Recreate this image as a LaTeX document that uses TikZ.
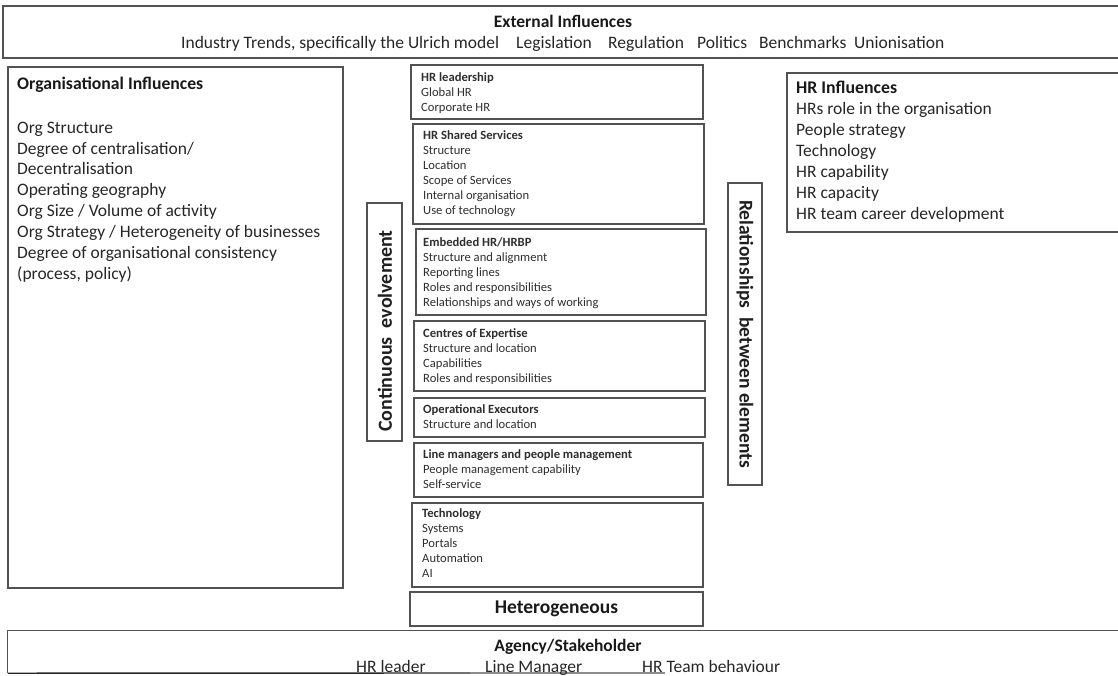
\documentclass[tikz,border=0pt]{standalone}
\usepackage{fontspec}
\setmainfont{Carlito}
\usetikzlibrary{fit}
\begin{document}
\begin{tikzpicture}[x=1pt,y=-1pt,
  frame/.style={draw=black!68, line width=1.2pt, inner sep=0pt},
  small/.style={font=\fontsize{12.6}{15}\selectfont, text=black!82, inner sep=0pt, align=left, anchor=north west},
  large/.style={font=\fontsize{17.5}{20.9}\selectfont, text=black!85, inner sep=0pt, align=left, anchor=north west},
  headline/.style={font=\fontsize{17.5}{20}\selectfont\bfseries, text=black!90, inner sep=0pt, anchor=base},
  item/.style={font=\fontsize{17.5}{20}\selectfont, text=black!85, inner sep=0pt, anchor=base west},
  sidelabel/.style={font=\fontsize{19.5}{22}\selectfont\bfseries, text=black!88, inner sep=0pt}]
\useasboundingbox (0,0) rectangle (1118,675);
\clip (0,0) rectangle (1118,675);

% outer bands and side panels
\node[frame, fit={(3,6) (1130,58)}] (ext) {};
\node[frame, fit={(8,67) (343,588)}] (org) {};
\node[frame, fit={(787,73) (1130,232)}] (hri) {};
\node[inner sep=0pt, fit={(8,631) (1130,673)}] (agency) {};
\draw[black!68, line width=1.2pt] (agency.south west) -- (agency.north west) -- (agency.north east);
\coordinate (fadeA) at (470,673);
\coordinate (fadeB) at (665,673);
\draw[black!85, line width=1.4pt] (agency.south west) -- (fadeA);
\draw[black!45, line width=1.2pt] (fadeA) -- (fadeB);

% central stack of HR elements
\node[frame, fit={(411,65) (703,119)}] (hrl) {};
\node[frame, fit={(413,124) (704,224)}] (hrss) {};
\node[frame, fit={(416,229) (706,315)}] (emb) {};
\node[frame, fit={(414,321) (705,391)}] (coe) {};
\node[frame, fit={(414,398) (705,437)}] (ops) {};
\node[frame, fit={(414,443) (703,497)}] (lm) {};
\node[frame, fit={(412,503) (703,587)}] (tech) {};
\node[frame, fit={(410,592) (703,626)}] (het) {};

% vertical side labels
\node[frame, fit={(367,203) (402,441)}] (cont) {};
\node[frame, fit={(728,183) (762,485)}] (rel) {};
\node[sidelabel, font=\fontsize{20}{22}\selectfont\bfseries, rotate=90] (contT) at (385,331) {Continuous\ \ evolvement};
\node[sidelabel, rotate=-90] (relT) at (745,334) {Relationships\ \ between elements};

% external influences
\node[headline] (extT) at (563,27.1) {External Influences};
\node[item] (e1) at (181,48.3) {Industry Trends, specifically the Ulrich model};
\node[item] (e2) at (516,48.3) {Legislation};
\node[item] (e3) at (608,48.3) {Regulation};
\node[item] (e4) at (697,48.3) {Politics};
\node[item] (e5) at (759,48.3) {Benchmarks};
\node[item] (e6) at (854,48.3) {Unionisation};

% organisational influences
\node[large, font=\fontsize{17.7}{20}\selectfont\bfseries, text=black!90] (orgT) at (17,76.4) {Organisational Influences};
\node[large] (orgB) at (17,121.6) {Org Structure\\Degree of centralisation/\\Decentralisation\\Operating geography\\Org Size / Volume of activity\\Org Strategy / Heterogeneity of businesses\\Degree of organisational consistency\\(process, policy)};

% HR influences
\node[large, font=\fontsize{17.8}{20}\selectfont\bfseries, text=black!90] (hriT) at (796,80.4) {HR Influences};
\node[large, font=\fontsize{17.5}{21}\selectfont] (hriB) at (796,102.6) {HRs role in the organisation\\People strategy\\Technology\\HR capability\\HR capacity\\HR team career development};

% texts of the central stack
\node[small] (hrlT) at (421,72.9) {\textbf{HR leadership}\\Global HR\\Corporate HR};
\node[small] (hrssT) at (423,130.9) {\textbf{HR Shared Services}\\Structure\\Location\\Scope of Services\\Internal organisation\\Use of technology};
\node[small] (embT) at (423,237.9) {\textbf{Embedded HR/HRBP}\\Structure and alignment\\Reporting lines\\Roles and responsibilities\\Relationships and ways of working};
\node[small] (coeT) at (423,328.9) {\textbf{Centres of Expertise}\\Structure and location\\Capabilities\\Roles and responsibilities};
\node[small] (opsT) at (423,404.9) {\textbf{Operational Executors}\\Structure and location};
\node[small] (lmT) at (423,449.9) {\textbf{Line managers and people management}\\People management capability\\Self-service};
\node[small] (techT) at (422,508.9) {\textbf{Technology}\\Systems\\Portals\\Automation\\AI};
\node[headline, font=\fontsize{19.5}{22}\selectfont\bfseries] (hetT) at (556.5,613) {Heterogeneous};

% agency / stakeholder band
\node[headline] (agT) at (568,651) {Agency/Stakeholder};
\node[item] (a1) at (356,672) {HR leader};
\node[item] (a2) at (485,672) {Line Manager};
\node[item] (a3) at (642,672) {HR Team behaviour};
\end{tikzpicture}
\end{document}
